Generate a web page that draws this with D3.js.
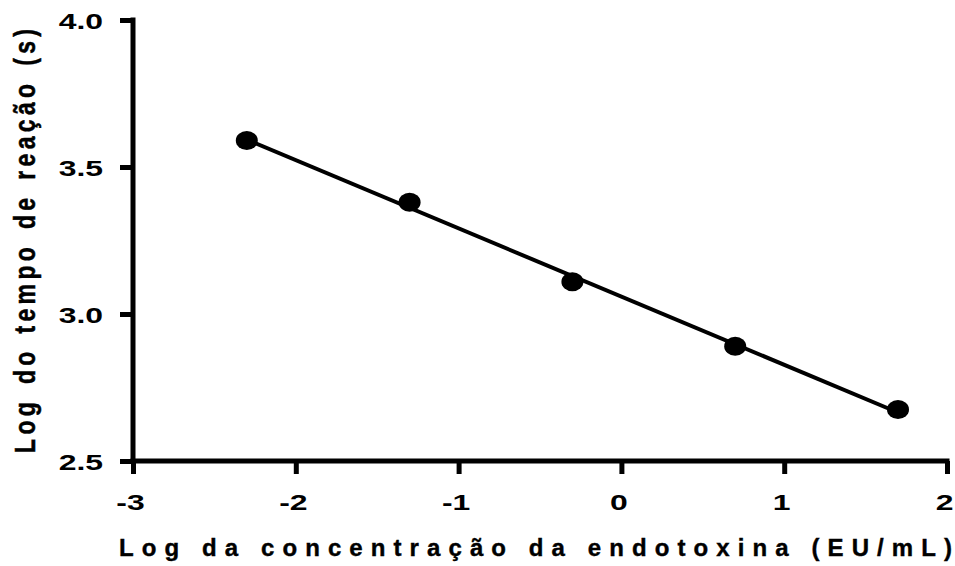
<!DOCTYPE html>
<html>
<head>
<meta charset="utf-8">
<script src="https://cdn.jsdelivr.net/npm/d3@7"></script>
<style>
  html, body { margin: 0; padding: 0; background: #fff; }
  svg { display: block; }
  text { font-family: "Liberation Sans", Arial, sans-serif; font-weight: bold; fill: #000; }
  .title { stroke: #000; stroke-width: 0.4px; }
</style>
</head>
<body>
<svg id="chart" width="955" height="566"></svg>
<script>
// Log concentration (EU/mL) vs log reaction time (s)
const logConc = [-2.301, -1.301, -0.301, 0.699, 1.699];
const logTime = [3.59, 3.38, 3.11, 2.89, 2.675];
const xTicks = [-3, -2, -1, 0, 1, 2];
const yTicks = [2.5, 3.0, 3.5, 4.0];
const xTitle = "Log da concentração da endotoxina (EU/mL)";
const yTitle = "Log do tempo de reação (s)";

const svg = d3.select("#chart");
const x = d3.scaleLinear().domain([-3, 2]).range([133, 947]);
const y = d3.scaleLinear().domain([2.5, 4.0]).range([461, 20]);

// least-squares line through the standards
const mx = d3.mean(logConc), my = d3.mean(logTime);
const sxy = d3.sum(logConc, (c, i) => (c - mx) * (logTime[i] - my));
const sxx = d3.sum(logConc, c => (c - mx) ** 2);
const slope = sxy / sxx, intercept = my - slope * mx;
const [x0, x1] = d3.extent(logConc);

const AXW = 5;      // axis stroke width
const TICK = 13;    // tick length
const WIDE = 1.45;  // horizontal stretch of the tick numerals

// axes
const xAxis = svg.append("g").attr("transform", `translate(0,${y(2.5)})`)
  .call(d3.axisBottom(x).tickValues(xTicks).tickSize(TICK).tickSizeOuter(0)
    .tickFormat(d => String(d)));
const yAxis = svg.append("g").attr("transform", `translate(${x(-3)},0)`)
  .call(d3.axisLeft(y).tickValues(yTicks).tickSize(TICK).tickSizeOuter(0)
    .tickFormat(d3.format(".1f")));

[xAxis, yAxis].forEach(g => {
  g.select(".domain").attr("stroke", "#000").attr("stroke-width", AXW);
  g.selectAll(".tick line").attr("stroke", "#000").attr("stroke-width", AXW);
  g.selectAll(".tick text").style("font-size", "22px").attr("fill", "#000");
});
xAxis.select(".domain").attr("d", `M${x(-3) - AXW / 2},0H${x(2) + AXW / 2}`);
yAxis.select(".domain").attr("d", `M0,${y(4.0) - AXW / 2}V${y(2.5) + AXW / 2}`);

// numerals: wide, bold
xAxis.selectAll(".tick text")
  .attr("x", null).attr("y", null).attr("dy", null)
  .attr("text-anchor", "middle")
  .attr("transform", `translate(-3,49) scale(${WIDE},1)`);
yAxis.selectAll(".tick text")
  .attr("x", null).attr("y", null).attr("dy", null)
  .attr("text-anchor", "end")
  .attr("transform", `translate(-30,8) scale(${WIDE},1)`);

// regression line
svg.append("line")
  .attr("x1", x(x0)).attr("y1", y(intercept + slope * x0))
  .attr("x2", x(x1)).attr("y2", y(intercept + slope * x1))
  .attr("stroke", "#000").attr("stroke-width", 4);

// data points
svg.append("g").selectAll("ellipse")
  .data(logConc.map((c, i) => ({ c, t: logTime[i] })))
  .join("ellipse")
  .attr("cx", d => x(d.c)).attr("cy", d => y(d.t))
  .attr("rx", 11).attr("ry", 9.5).attr("fill", "#000");

// letter-spaced title: the spacing is set so that the visible text spans `len`;
// the last glyph carries no trailing space
function spacedTitle(node, str, len, ws) {
  const head = node.append("tspan").text(str.slice(0, -1))
    .style("word-spacing", ws + "px").style("letter-spacing", "0px");
  node.append("tspan").text(str.slice(-1)).style("letter-spacing", "0px");
  const w = node.node().getComputedTextLength();
  head.style("letter-spacing", ((len - w) / (str.length - 1)) + "px");
  return node;
}

// axis titles
spacedTitle(
  svg.append("text").attr("class", "title")
    .attr("x", 119).attr("y", 556).style("font-size", "24px"),
  xTitle, 833, 0);

spacedTitle(
  svg.append("text").attr("class", "title")
    .attr("transform", "translate(35,453) rotate(-90) scale(1,1.3)")
    .style("font-size", "23px"),
  yTitle, 424, 3);
</script>
</body>
</html>
